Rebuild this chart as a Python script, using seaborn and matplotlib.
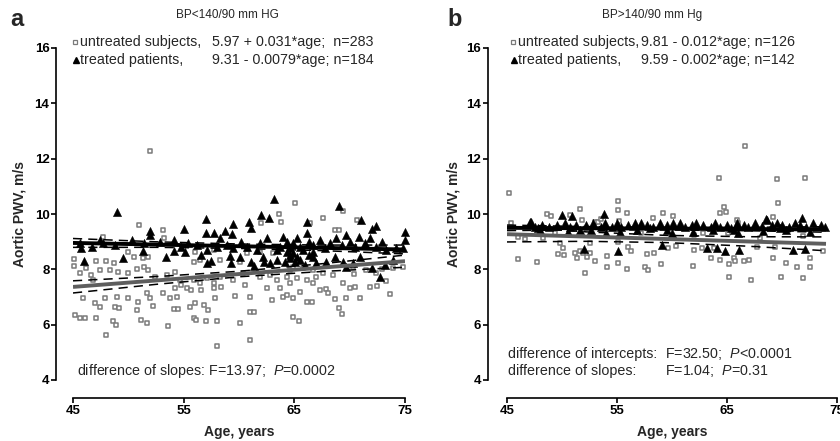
import matplotlib.pyplot as plt
import numpy as np
import pandas as pd
import seaborn as sns

# ---- values (age in years, aortic PWV in m/s) ----
# panel a: BP<140/90 mm Hg
a_untreated = [
    (65.1, 10.39), (63.6, 9.99), (63.8, 9.72), (62.0, 9.66), (51.0, 9.60), (53.1, 9.42),
    (67.6, 9.84), (69.4, 10.12), (70.7, 9.78), (68.7, 9.42), (69.0, 9.42), (66.4, 9.69),
    (47.7, 9.18), (53.2, 9.12), (50.0, 8.64), (50.5, 8.43), (51.3, 8.40), (51.8, 8.43),
    (45.1, 8.36), (45.1, 8.12), (47.1, 8.30), (48.0, 8.30), (48.7, 8.22), (46.2, 8.04),
    (45.6, 7.86), (46.6, 7.80), (46.8, 7.62), (47.4, 7.98), (48.3, 7.98), (49.1, 7.92),
    (50.0, 7.86), (50.8, 8.00), (51.4, 8.07), (51.8, 7.98), (52.4, 7.74), (45.9, 6.95),
    (47.0, 6.80), (47.4, 6.65), (47.9, 6.95), (48.8, 6.65), (49.2, 6.62), (49.0, 7.01),
    (50.0, 6.95), (50.9, 6.83), (50.8, 6.53), (51.7, 7.13), (52.0, 6.95), (52.2, 6.68),
    (53.1, 7.13), (53.8, 6.95), (54.4, 6.99), (54.1, 6.57), (54.5, 6.56), (55.6, 6.65),
    (56.0, 6.77), (56.8, 6.71), (57.2, 6.53), (57.8, 6.95), (58.4, 7.37), (45.2, 6.35),
    (45.6, 6.25), (46.1, 6.25), (47.1, 6.23), (48.6, 6.15), (48.9, 5.97), (51.1, 6.17),
    (51.7, 6.05), (53.6, 5.95), (55.9, 6.25), (56.1, 6.17), (57.0, 6.15), (58.0, 6.15),
    (60.1, 6.05), (61.0, 6.47), (61.4, 6.47), (64.9, 6.29), (65.4, 6.13), (48.0, 5.63),
    (58.0, 5.24), (61.0, 5.45), (59.6, 7.04), (61.0, 7.01), (63.0, 6.89), (64.0, 7.01),
    (64.3, 7.07), (64.9, 6.95), (65.5, 7.19), (66.1, 6.83), (66.6, 6.81), (67.3, 7.25),
    (67.9, 7.28), (68.0, 7.13), (68.7, 6.92), (69.0, 6.62), (69.3, 6.37), (69.4, 7.49),
    (70.0, 7.31), (70.5, 7.37), (69.7, 6.95), (70.9, 6.98), (71.8, 7.37), (72.5, 7.40),
    (73.3, 7.59), (73.6, 7.11), (70.4, 7.82), (72.9, 8.00), (52.0, 12.28),
    (53.5, 7.80), (54.2, 7.92), (54.7, 7.62), (55.3, 7.31), (55.9, 7.62), (56.5, 7.49),
    (57.1, 7.68), (57.7, 7.49), (58.3, 7.74), (59.5, 7.62), (60.4, 7.86), (61.9, 7.74),
    (62.8, 7.80), (63.4, 7.62), (64.3, 7.74), (65.2, 7.68), (66.1, 7.62), (66.7, 7.49),
    (67.6, 7.86), (68.5, 7.80), (54.2, 7.31), (54.8, 7.43), (55.7, 7.25), (56.6, 7.25),
    (57.7, 7.31), (60.5, 7.43), (62.5, 7.31), (63.7, 7.31), (64.6, 7.49), (55.9, 8.28),
    (56.5, 8.34), (56.0, 8.64), (57.7, 8.70), (58.3, 8.34), (60.1, 8.28), (60.7, 8.58),
    (61.9, 8.64), (63.1, 8.58), (64.6, 7.98), (64.9, 8.10), (65.8, 8.04), (66.7, 7.98),
    (67.0, 7.74), (70.3, 8.10), (71.5, 7.98), (72.4, 7.86), (73.9, 8.04), (74.8, 8.10),
]
a_treated = [
    (63.2, 10.54), (69.0, 10.30), (49.0, 10.06), (57.0, 9.81), (62.0, 9.96), (59.5, 9.63),
    (60.9, 9.72), (61.1, 9.51), (62.7, 9.84), (66.1, 9.72), (71.0, 9.78), (72.4, 9.57),
    (72.0, 9.45), (55.0, 9.45), (52.0, 9.39), (57.0, 9.33), (57.7, 9.30), (58.7, 9.40),
    (59.4, 9.27), (75.0, 9.34), (75.0, 9.06), (45.7, 8.78), (46.0, 8.30), (49.5, 8.42),
    (51.3, 8.66), (53.4, 8.46), (54.1, 8.66), (55.1, 8.64), (56.6, 8.52), (57.1, 8.22),
    (57.5, 8.30), (59.2, 8.48), (59.3, 8.22), (60.1, 8.46), (61.1, 8.28), (61.4, 8.12),
    (62.2, 8.46), (62.3, 8.28), (62.8, 8.22), (63.4, 8.34), (64.2, 8.28), (64.6, 8.52),
    (65.5, 8.34), (66.0, 8.16), (66.7, 8.43), (67.0, 8.22), (67.9, 8.28), (68.7, 8.43),
    (69.4, 8.28), (69.7, 8.10), (70.3, 8.24), (70.9, 8.46), (72.0, 8.04), (72.7, 7.71),
    (73.2, 8.16), (73.9, 8.34), (47.4, 9.06), (47.7, 8.94), (48.8, 8.88), (50.3, 9.06),
    (51.4, 8.94), (52.0, 9.24), (52.9, 9.00), (54.1, 9.06), (54.8, 8.82), (55.4, 8.94),
    (56.2, 8.88), (58.3, 9.12), (58.9, 8.88), (60.2, 9.00), (60.7, 8.82), (61.9, 8.94),
    (62.5, 9.12), (63.7, 8.82), (64.0, 9.18), (64.3, 9.00), (64.6, 8.76), (64.9, 8.94),
    (65.2, 9.12), (65.5, 8.82), (66.1, 9.30), (66.3, 9.00), (66.7, 8.88), (67.3, 9.06),
    (67.8, 8.76), (68.2, 8.94), (68.8, 9.12), (69.3, 8.88), (69.7, 9.24), (70.0, 9.00),
    (70.5, 8.82), (70.8, 9.18), (71.4, 8.94), (71.8, 9.12), (72.4, 8.82), (72.9, 9.00),
    (73.3, 8.70), (74.2, 8.76), (74.8, 8.76), (64.3, 8.64), (64.6, 8.40), (64.9, 8.58),
    (65.2, 8.46), (63.4, 8.70), (65.8, 8.70), (66.3, 8.52), (66.7, 8.64), (65.1, 8.28),
    (45.6, 8.94), (46.7, 8.82), (57.1, 8.70), (58.0, 8.82), (59.5, 8.76), (61.6, 8.70),
]
# panel b: BP>140/90 mm Hg
b_untreated = [
    (45.2, 10.77), (45.4, 9.66), (46.0, 9.16), (46.6, 9.10), (46.0, 8.37), (47.7, 8.25),
    (48.3, 9.12), (48.6, 9.99), (49.0, 9.93), (50.7, 9.96), (51.6, 10.17), (51.8, 9.78),
    (53.0, 9.72), (53.3, 9.72), (53.5, 9.81), (55.1, 10.48), (55.1, 10.15), (55.9, 10.03),
    (55.2, 9.76), (58.3, 9.84), (59.2, 10.05), (60.1, 9.93), (49.6, 8.56), (50.2, 8.53),
    (50.1, 8.76), (49.8, 8.94), (51.2, 8.58), (51.4, 8.40), (51.6, 8.66), (51.9, 8.60),
    (52.3, 8.43), (52.5, 8.58), (52.1, 7.86), (53.0, 8.30), (54.1, 8.48), (54.1, 8.07),
    (55.1, 8.22), (55.9, 8.00), (56.0, 8.82), (56.3, 8.67), (57.7, 8.56), (57.5, 8.07),
    (57.8, 7.98), (59.0, 8.18), (58.4, 8.60), (59.6, 8.76), (60.4, 8.84), (61.9, 8.12),
    (62.7, 8.76), (63.5, 8.42), (63.8, 8.76), (64.4, 8.34), (64.7, 10.27), (64.9, 10.06),
    (64.4, 10.03), (65.9, 9.78), (66.0, 9.69), (65.1, 9.30), (65.2, 8.18), (65.2, 7.74),
    (65.6, 8.40), (65.7, 8.30), (66.5, 8.30), (67.0, 8.32), (67.2, 7.62), (68.0, 9.12),
    (69.2, 8.40), (69.6, 10.41), (69.2, 9.88), (69.4, 8.82), (69.9, 7.71), (70.4, 8.24),
    (71.4, 8.07), (71.9, 9.21), (71.9, 7.68), (72.5, 8.40), (72.5, 8.07), (73.7, 8.68),
    (62.8, 9.30), (62.0, 9.24), (57.2, 9.30), (49.4, 9.33), (52.5, 8.94), (55.1, 9.00),
    (62.0, 8.70), (67.7, 8.82), (66.6, 12.46), (64.3, 11.30), (72.1, 11.30), (69.5, 11.25),
]
b_treated = [
    (47.1, 9.72), (50.0, 9.96), (50.9, 9.93), (53.8, 10.00), (52.0, 8.74), (55.1, 8.66),
    (59.1, 8.88), (63.2, 8.76), (64.1, 8.76), (64.8, 8.66), (66.1, 8.70), (71.0, 8.70),
    (72.1, 8.72), (71.8, 9.84), (68.5, 9.82),
    (47.2, 9.72), (47.5, 9.54), (48.2, 9.60), (48.8, 9.54), (49.5, 9.60), (50.3, 9.66),
    (50.7, 9.54), (51.3, 9.60), (51.6, 9.42), (52.2, 9.60), (52.8, 9.66), (53.5, 9.54),
    (53.9, 9.66), (54.5, 9.54), (55.0, 9.69), (55.4, 9.54), (56.0, 9.60), (56.6, 9.66),
    (57.2, 9.69), (57.7, 9.60), (58.3, 9.54), (58.9, 9.66), (59.5, 9.60), (60.1, 9.66),
    (60.7, 9.69), (61.2, 9.54), (61.8, 9.60), (62.2, 9.69), (62.8, 9.60), (63.5, 9.54),
    (63.9, 9.66), (64.4, 9.54), (65.0, 9.60), (65.4, 9.48), (65.9, 9.66), (66.5, 9.60),
    (66.9, 9.54), (67.5, 9.66), (68.2, 9.57), (68.6, 9.78), (69.1, 9.60), (69.5, 9.69),
    (70.0, 9.60), (70.6, 9.54), (71.2, 9.66), (71.6, 9.60), (72.2, 9.54), (72.8, 9.69),
    (73.5, 9.60), (73.9, 9.54),
    (48.0, 9.42), (50.5, 9.36), (52.6, 9.42), (55.3, 9.36), (56.8, 9.42), (59.5, 9.42),
    (61.9, 9.36), (63.7, 9.42), (65.6, 9.42), (68.3, 9.40), (70.4, 9.42), (72.5, 9.36),
    (54.0, 9.30), (60.0, 9.30), (66.0, 9.30), (47.8, 9.48), (58.0, 9.48), (69.8, 9.48),
]

# regression lines printed in the legends: intercept, slope
a_fits = {"untreated": (5.97, 0.031), "treated": (9.31, -0.0079)}
b_fits = {"untreated": (9.81, -0.012), "treated": (9.59, -0.002)}
a_fit_ages = [45, 75]
b_fit_ages = [45, 74]

# 95% CI half widths (m/s)
a_ci_ages = [45, 52.5, 60, 67.5, 75]
a_ci_untreated = [0.22, 0.14, 0.10, 0.14, 0.22]
a_ci_treated = [0.16, 0.10, 0.08, 0.10, 0.16]
b_ci_ages = [45, 52.25, 59.5, 66.75, 74]
b_ci_untreated = [0.28, 0.17, 0.13, 0.17, 0.25]
b_ci_treated = [0.10, 0.06, 0.05, 0.06, 0.10]

W, H = 840, 441
GRAY = "#7a7a7a"
LINE_GRAY = "#5e5e5e"
TXT = 10.3

sns.set_style("ticks")
plt.rcParams["font.family"] = ["Liberation Sans", "DejaVu Sans"]
plt.rcParams["mathtext.fontset"] = "custom"
plt.rcParams["mathtext.rm"] = "Liberation Sans"
plt.rcParams["mathtext.it"] = "Liberation Sans:italic"

fig = plt.figure(figsize=(W / 100, H / 100), dpi=100)


def fx(px):
    return px / W


def fy(py):
    return 1 - py / H


def draw_panel(ax, untreated, treated, fits, fit_ages, ci_ages, ci_unt, ci_trt, spine_off):
    df_u = pd.DataFrame(untreated, columns=["age", "pwv"])
    df_t = pd.DataFrame(treated, columns=["age", "pwv"])
    sns.scatterplot(data=df_u, x="age", y="pwv", ax=ax, marker="s", s=9,
                    facecolor="white", edgecolor=GRAY, linewidth=1.1,
                    clip_on=False, zorder=2)
    sns.scatterplot(data=df_t, x="age", y="pwv", ax=ax, marker="^", s=34,
                    color="black", edgecolor="black", linewidth=0.4,
                    clip_on=False, zorder=3)

    ages = np.array(fit_ages, dtype=float)
    ca = np.array(ci_ages, dtype=float)
    for key, col, ci in [("untreated", LINE_GRAY, ci_unt), ("treated", "black", ci_trt)]:
        b0, b1 = fits[key]
        ax.plot(ages, b0 + b1 * ages, color=col, lw=2.8, zorder=4, solid_capstyle="butt")
        mid = b0 + b1 * ca
        for sign in (1, -1):
            ax.plot(ca, mid + sign * np.array(ci), color="black", lw=1.1,
                    ls=(0, (6, 4)), zorder=4)

    ax.set_xlim(45, 75)
    ax.set_ylim(4, 16)
    ax.set_xticks([45, 55, 65, 75])
    ax.set_yticks([4, 6, 8, 10, 12, 14, 16])
    ax.set_xlabel("")
    ax.set_ylabel("")
    sns.despine(ax=ax)
    ax.spines["left"].set_position(("outward", spine_off))
    ax.spines["bottom"].set_position(("outward", 13))
    for sp in ["left", "bottom"]:
        ax.spines[sp].set_linewidth(1.2)
        ax.spines[sp].set_color("black")
    ax.tick_params(axis="both", length=3.8, width=1.2, colors="black",
                   labelsize=9.5, pad=1)
    for lbl in ax.get_xticklabels() + ax.get_yticklabels():
        lbl.set_fontweight("bold")
    ax.patch.set_visible(False)


ax_a = fig.add_axes([fx(73), 61 / H, 332 / W, 332 / H])
ax_b = fig.add_axes([fx(507), 61 / H, 330 / W, 332 / H])
draw_panel(ax_a, a_untreated, a_treated, a_fits, a_fit_ages,
           a_ci_ages, a_ci_untreated, a_ci_treated, 12.2)
draw_panel(ax_b, b_untreated, b_treated, b_fits, b_fit_ages,
           b_ci_ages, b_ci_untreated, b_ci_treated, 13.7)

# panel letters and headings
fig.text(fx(10), fy(26), "a", fontsize=17, fontweight="bold", va="baseline")
fig.text(fx(447), fy(26), "b", fontsize=17, fontweight="bold", va="baseline")
fig.text(fx(227), fy(15), "BP<140/90 mm HG", fontsize=8.5, ha="center", va="center")
fig.text(fx(652), fy(15), "BP>140/90 mm Hg", fontsize=8.5, ha="center", va="center")

# legend rows: marker x, label x, equation x
for x0, x_lab, x_eq, rows in [
    (75, 80, 212, [("untreated subjects,", "5.97 + 0.031*age;  n=283"),
                   ("treated patients,", "9.31 - 0.0079*age; n=184")]),
    (513, 518, 641, [("untreated subjects,", "9.81 - 0.012*age; n=126"),
                     ("treated patients,", "9.59 - 0.002*age; n=142")]),
]:
    for i, (lab, eq) in enumerate(rows):
        y = 42 + 18 * i
        if i == 0:
            fig.add_artist(plt.Line2D([fx(x0)], [fy(y)], marker="s", ms=3.0,
                                      mfc="white", mec=GRAY, mew=0.9, ls="none"))
        else:
            fig.add_artist(plt.Line2D([fx(x0 + 1)], [fy(y)], marker="^", ms=4.5,
                                      color="black", ls="none"))
        fig.text(fx(x_lab), fy(y), lab, fontsize=TXT, va="center")
        fig.text(fx(x_eq), fy(y), eq, fontsize=TXT, va="center")

# statistics
fig.text(fx(77), fy(371), "difference of slopes: F=13.97;  $\\mathit{P}$=0.0002",
         fontsize=TXT, va="center")
fig.text(fx(508), fy(354), "difference of intercepts:", fontsize=TXT, va="center")
fig.text(fx(665), fy(354), "F=32.50;  $\\mathit{P}$<0.0001", fontsize=TXT, va="center")
fig.text(fx(508), fy(371), "difference of slopes:", fontsize=TXT, va="center")
fig.text(fx(665), fy(371), "F=1.04;  $\\mathit{P}$=0.31", fontsize=TXT, va="center")

# axis titles
for xc, yc in [(20, 214), (453, 214)]:
    fig.text(fx(xc), fy(yc), "Aortic PWV, m/s", fontsize=10, fontweight="bold",
             rotation=90, ha="center", va="center")
for xc in [239, 672]:
    fig.text(fx(xc), fy(432), "Age, years", fontsize=10, fontweight="bold",
             ha="center", va="center")

fig.savefig("out.png", dpi=100, facecolor="white")
